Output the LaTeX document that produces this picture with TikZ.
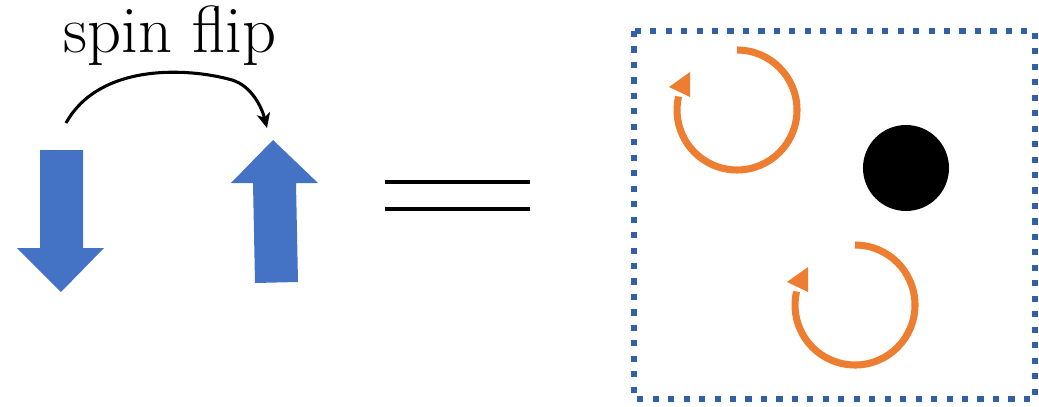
\documentclass[tikz,border=0pt]{standalone}
\usetikzlibrary{arrows.meta}
\definecolor{spinblue}{RGB}{68,114,196}
\definecolor{boxblue}{RGB}{50,96,166}
\definecolor{vortexorange}{RGB}{237,125,49}
\tikzset{
  spinarrow/.style={fill=spinblue, draw=none},
  flipline/.style={draw=black, line width=2.3pt, -{Stealth[length=11pt,width=10pt,inset=3pt]}},
  eqline/.style={draw=black, line width=2.3pt},
  dotbox/.style={draw=boxblue, line width=4.6pt, dash pattern=on 4.6pt off 7pt},
  vortex/.style={draw=vortexorange, line width=5.3pt},
  vortexhead/.style={fill=vortexorange, draw=none},
  core/.style={circle, fill=black, draw=none, minimum size=64.5pt, inner sep=0pt}
}
\begin{document}
\begin{tikzpicture}[x=0.75pt,y=-0.75pt]
\useasboundingbox (0,0) rectangle (1039,407);
% label
\node[font=\fontsize{50}{58}\selectfont, anchor=base, inner sep=0pt] (label) at (170,52) {spin flip};
% down arrow
\fill[spinarrow] (40,150) -- (83,150) -- (83,248) -- (104,248) -- (61,292) -- (17,248) -- (40,248) -- cycle;
\coordinate (downtop) at (66,123);
% up arrow
\fill[spinarrow] (255,283) -- (298,282) -- (296,183) -- (318,183) -- (273,140) -- (231,183) -- (253,183) -- cycle;
\coordinate (uptop) at (267,128);
% spin flip connector
\draw[flipline] (downtop) .. controls (100,62) and (190,68) .. (232,80) .. controls (252,86) and (262,108) .. (uptop);
% equals sign
\coordinate (eqa) at (385,182);
\coordinate (eqb) at (530,182);
\coordinate (eqc) at (385,209);
\coordinate (eqd) at (530,209);
\draw[eqline] (eqa) -- (eqb);
\draw[eqline] (eqc) -- (eqd);
% dotted box
\draw[dotbox] (634,31) rectangle (1035,399);
% core
\node[core] (coreA) at (906,168) {};
% vortices (y axis is flipped: tikz angle = - visual angle)
\coordinate (v1) at (737,110);
\draw[vortex] ([shift={(-90:60)}]v1) arc[start angle=-90, end angle=193, radius=60];
\fill[vortexhead] ([shift={(-47,-38)}]v1) -- ([shift={(-68,-23)}]v1) -- ([shift={(-47,-13)}]v1) -- cycle;
\coordinate (v2) at (855,305);
\draw[vortex] ([shift={(-90:60)}]v2) arc[start angle=-90, end angle=193, radius=60];
\fill[vortexhead] ([shift={(-47,-38)}]v2) -- ([shift={(-68,-23)}]v2) -- ([shift={(-47,-13)}]v2) -- cycle;
\end{tikzpicture}
\end{document}
